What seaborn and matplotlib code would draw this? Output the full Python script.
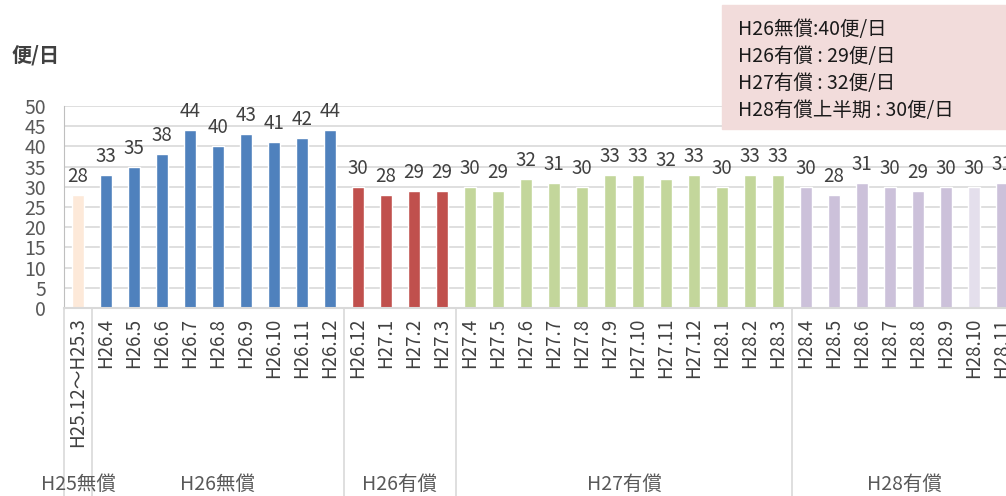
import matplotlib
matplotlib.use('Agg')
import matplotlib.pyplot as plt
import matplotlib.transforms as mtransforms
import seaborn as sns
import pandas as pd

# months (H25.12-H28.11) and flights per day
months = ['H25.12～H25.3',
          'H26.4', 'H26.5', 'H26.6', 'H26.7', 'H26.8', 'H26.9', 'H26.10', 'H26.11', 'H26.12',
          'H26.12', 'H27.1', 'H27.2', 'H27.3',
          'H27.4', 'H27.5', 'H27.6', 'H27.7', 'H27.8', 'H27.9', 'H27.10', 'H27.11', 'H27.12',
          'H28.1', 'H28.2', 'H28.3',
          'H28.4', 'H28.5', 'H28.6', 'H28.7', 'H28.8', 'H28.9', 'H28.10', 'H28.11']
flights = [28,
           33, 35, 38, 44, 40, 43, 41, 42, 44,
           30, 28, 29, 29,
           30, 29, 32, 31, 30, 33, 33, 32, 33, 30, 33, 33,
           30, 28, 31, 30, 29, 30, 30, 31]
groups = ['H25無償', 'H26無償', 'H26有償', 'H27有償', 'H28有償']
group_sizes = [1, 9, 4, 12, 8]
group_colors = ['#fde9d9', '#4f81bd', '#c0504d', '#c3d69b', '#ccc1da']
summary = ['H26無償:40便/日', 'H26有償 : 29便/日', 'H27有償 : 32便/日', 'H28有償上半期 : 30便/日']

sns.set_style('white')
plt.rcParams['font.family'] = ['Noto Sans CJK JP', 'DejaVu Sans']

colors = []
for g, n in zip(group_colors, group_sizes):
    colors += [g] * n
colors[32] = '#e4dfec'  # H28.10 lighter

df = pd.DataFrame({'pos': list(range(len(flights))), 'flights': flights})

fig = plt.figure(figsize=(10.06, 4.96), dpi=100)
ax = fig.add_axes([64 / 1006, (496 - 308) / 496, 1 - 64 / 1006, 202 / 496])

sns.barplot(data=df, x='pos', y='flights', hue='pos', palette=colors, legend=False,
            width=0.43, ax=ax, saturation=1)

ax.set_xlim(-0.5, (1006 - 78) / 28)
ax.set_ylim(0, 50)
ax.set_yticks(range(0, 51, 5))
ax.yaxis.grid(True, color='#d9d9d9', linewidth=1.2)
ax.set_axisbelow(True)
for s in ['top', 'right']:
    ax.spines[s].set_visible(False)
ax.spines['left'].set_color('#bfbfbf')
ax.spines['bottom'].set_color('#d9d9d9')
ax.spines['bottom'].set_linewidth(1.5)

ax.set_xticks(range(len(months)))
ax.set_xticklabels(months, rotation=90, va='top', ha='center', fontsize=13.5, color='#404040')
ax.tick_params(axis='x', length=0, pad=7)
ax.tick_params(axis='y', length=0, labelsize=14, labelcolor='#595959', pad=13)
ax.set_xlabel('')
ax.set_ylabel('')

for i, v in enumerate(flights):
    ax.text(i, v + 2.0, str(v), ha='center', va='bottom', fontsize=13.5, color='#404040')

# group separators and labels below the axis
trans = mtransforms.blended_transform_factory(ax.transData, ax.transAxes)
edges = [-0.5]
for n in group_sizes:
    edges.append(edges[-1] + n)
for e in edges[:-1]:
    ax.plot([e, e], [0, -0.93], transform=trans, color='#d9d9d9', lw=1.2, clip_on=False)
for g, a, b in zip(groups, edges[:-1], edges[1:]):
    ax.text((a + b) / 2, -0.875, g, transform=trans, ha='center', va='center',
            fontsize=14, color='#595959', clip_on=False)

fig.text(36 / 1006, 1 - 55 / 496, '便/日', ha='center', va='center', fontsize=14.5,
         fontweight='bold', color='#404040')

# summary box
fig.patches.append(plt.Rectangle((722 / 1006, 1 - 129 / 496), 1 - 722 / 1006, 124 / 496,
                                 transform=fig.transFigure, color='#f2dcdb', zorder=5))
for k, line in enumerate(summary):
    fig.text(738 / 1006, 1 - (29 + 27.3 * k) / 496, line, ha='left', va='center',
             fontsize=14, color='#1a1a1a', zorder=6)

fig.savefig('out.png', dpi=100)
